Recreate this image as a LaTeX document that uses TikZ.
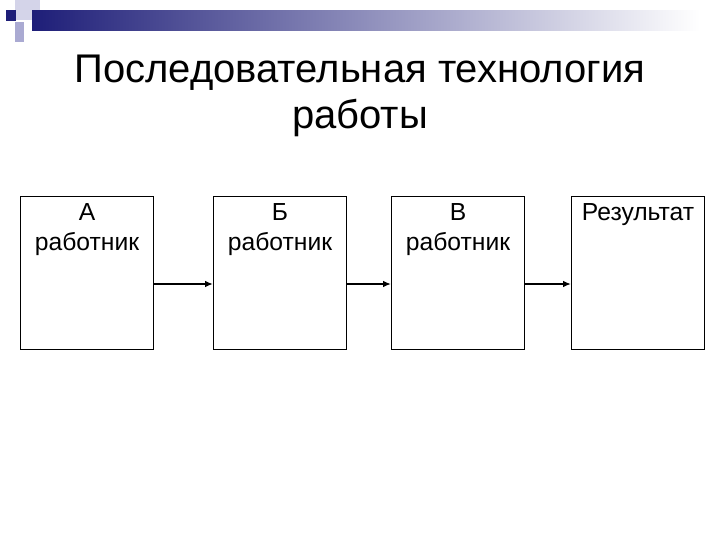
\documentclass[tikz,border=0pt]{standalone}
\usepackage{fontspec}
\setmainfont{Liberation Sans}
\usetikzlibrary{arrows.meta}
\definecolor{navy}{RGB}{30,30,120}
\definecolor{lav}{RGB}{170,170,210}
\begin{document}
\begin{tikzpicture}[x=0.75pt,y=-0.75pt,
  box/.style={draw,line width=0.8pt,minimum width=133*0.75pt,minimum height=153*0.75pt,anchor=north west,inner sep=0pt},
  lbl/.style={font=\fontsize{18.5}{22.5}\selectfont,align=center,anchor=north},
  conn/.style={line width=1.2pt,-{Latex[length=6pt,width=5pt]}}]
\useasboundingbox (0,0) rectangle (720,540);
\fill[lav!50] (15,0) rectangle (40,20);
\fill[lav] (15,22) rectangle (24,42);
\shade[left color=navy,right color=white] (32,10) rectangle (700,30);
\fill[navy] (6,10) rectangle (16,21);
\node[font=\fontsize{30}{34.5}\selectfont,align=center] (t) at (360,96) {Последовательная технология\\работы};
\node[box] (a) at (20,196) {};
\node[box] (b) at (213,196) {};
\node[box] (c) at (391,196) {};
\node[box] (d) at (571,196) {};
\node[lbl] at ([yshift=-2pt]a.north) {А\\работник};
\node[lbl] at ([yshift=-2pt]b.north) {Б\\работник};
\node[lbl] at ([yshift=-2pt]c.north) {В\\работник};
\node[lbl] at ([yshift=-2pt]d.north) {Результат};
\draw[conn] (a.east|-0,284) -- (b.west|-0,284);
\draw[conn] (b.east|-0,284) -- (c.west|-0,284);
\draw[conn] (c.east|-0,284) -- (d.west|-0,284);
\end{tikzpicture}
\end{document}
